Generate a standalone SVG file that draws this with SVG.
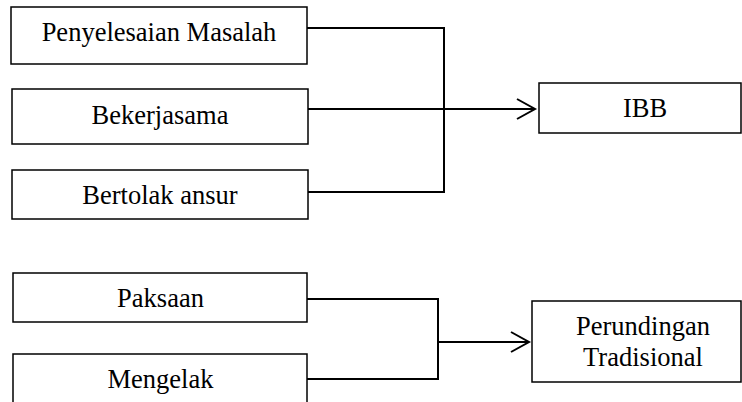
<svg xmlns="http://www.w3.org/2000/svg" width="742" height="402" viewBox="0 0 742 402">
<defs>
<style>
.box{fill:#fff;stroke:#000;stroke-width:1.5}
.lbl{font-family:"Liberation Serif","Times New Roman",serif;font-size:26.5px;fill:#000;text-anchor:middle}
.con{fill:none;stroke:#000;stroke-width:2}
</style>
<marker id="arr" markerUnits="userSpaceOnUse" markerWidth="22" markerHeight="24" refX="19" refY="11" orient="auto">
<path d="M1,1 L19,11 L1,21" fill="none" stroke="#000" stroke-width="2"/>
</marker>
</defs>
<rect width="742" height="402" fill="#fff"/>
<g id="connectors">
<path class="con" d="M307,28 H444 V192 H308"/>
<path class="con" d="M308,109 H535" marker-end="url(#arr)"/>
<path class="con" d="M307,299 H438 V379 H307"/>
<path class="con" d="M438,342 H529" marker-end="url(#arr)"/>
</g>
<g id="penyelesaian">
<rect class="box" x="11" y="7" width="296" height="57"/>
<text class="lbl" x="159" y="40.5">Penyelesaian Masalah</text>
</g>
<g id="bekerjasama">
<rect class="box" x="12" y="89" width="296" height="55"/>
<text class="lbl" x="160" y="124">Bekerjasama</text>
</g>
<g id="bertolak">
<rect class="box" x="12" y="170" width="296" height="49"/>
<text class="lbl" x="160" y="204">Bertolak ansur</text>
</g>
<g id="ibb">
<rect class="box" x="539" y="83" width="202" height="50"/>
<text class="lbl" x="645" y="116.5">IBB</text>
</g>
<g id="paksaan">
<rect class="box" x="13" y="273" width="294" height="49"/>
<text class="lbl" x="160.5" y="306.5">Paksaan</text>
</g>
<g id="mengelak">
<rect class="box" x="13" y="354" width="294" height="60"/>
<text class="lbl" x="160.5" y="388">Mengelak</text>
</g>
<g id="perundingan">
<rect class="box" x="532" y="301" width="209" height="81"/>
<text class="lbl" x="643" y="335">Perundingan</text>
<text class="lbl" x="643" y="366">Tradisional</text>
</g>
</svg>
